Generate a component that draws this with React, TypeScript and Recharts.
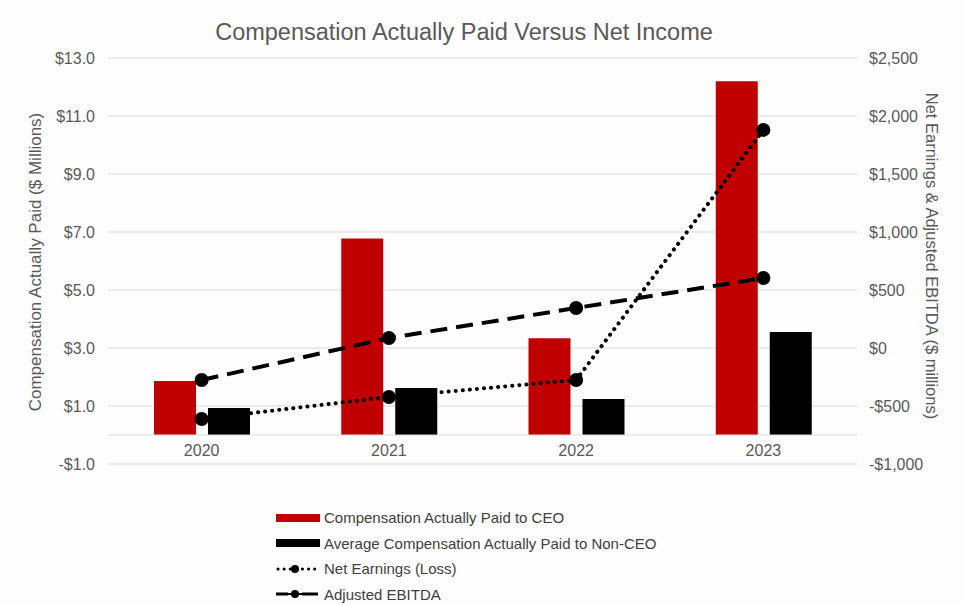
import {
  ComposedChart,
  Bar,
  Line,
  XAxis,
  YAxis,
  CartesianGrid,
  ReferenceLine,
} from "recharts";

const years = ["2020", "2021", "2022", "2023"];
const ceoPay = [1.86, 6.78, 3.34, 12.2];
const nonCeoPay = [0.93, 1.62, 1.24, 3.55];
const netEarnings = [-612, -422, -276, 1880];
const adjEbitda = [-276, 86, 345, 603];

const leftTicks = [-1, 1, 3, 5, 7, 9, 11, 13];
const rightTicks = [-1000, -500, 0, 500, 1000, 1500, 2000, 2500];

const RED = "#c00000";
const TEXT = "#595959";
const GRID = "#d9d9d9";
const FONT = "'Liberation Sans', Arial, sans-serif";

const data = years.map((y, i) => ({
  year: y,
  ceo: ceoPay[i],
  nonCeo: nonCeoPay[i],
  net: netEarnings[i],
  ebitda: adjEbitda[i],
}));

const money = (v: number, digits: number) => {
  const s = Math.abs(v).toLocaleString("en-US", {
    minimumFractionDigits: digits,
    maximumFractionDigits: digits,
  });
  return (v < 0 ? "-$" : "$") + s;
};

const legendItems = [
  { label: "Compensation Actually Paid to CEO", kind: "bar", color: RED },
  { label: "Average Compensation Actually Paid to Non-CEO", kind: "bar", color: "#000" },
  { label: "Net Earnings (Loss)", kind: "dot", color: "#000" },
  { label: "Adjusted EBITDA", kind: "dash", color: "#000" },
];

function LegendIcon({ kind, color }: { kind: string; color: string }) {
  return (
    <svg width={46} height={14} style={{ display: "block" }}>
      {kind === "bar" && <rect x={0} y={3} width={44} height={8} fill={color} />}
      {kind === "dot" && (
        <>
          <line x1={2} y1={7} x2={44} y2={7} stroke={color} strokeWidth={3}
            strokeDasharray="0.1 6" strokeLinecap="round" />
          <circle cx={19} cy={7} r={4} fill={color} />
        </>
      )}
      {kind === "dash" && (
        <>
          <line x1={0} y1={7} x2={12} y2={7} stroke={color} strokeWidth={3} />
          <line x1={26} y1={7} x2={42} y2={7} stroke={color} strokeWidth={3} />
          <line x1={12} y1={7} x2={26} y2={7} stroke={color} strokeWidth={2} />
          <circle cx={19} cy={7} r={4} fill={color} />
        </>
      )}
    </svg>
  );
}

export default function App() {
  return (
    <div
      style={{
        position: "fixed",
        left: 0,
        top: 0,
        width: 962,
        height: 605,
        background: "#fdfdfd",
        fontFamily: FONT,
      }}
    >
      <div
        style={{
          position: "absolute",
          top: 19,
          left: 0,
          width: 928,
          textAlign: "center",
          fontSize: 23.5,
          color: TEXT,
        }}
      >
        Compensation Actually Paid Versus Net Income
      </div>

      <ComposedChart
        width={962}
        height={605}
        data={data}
        margin={{ top: 58, right: 0, bottom: 111, left: 0 }}
        barGap={12}
      >
        <CartesianGrid vertical={false} stroke={GRID} yAxisId="left" />
        <ReferenceLine y={0} yAxisId="left" stroke={GRID} />
        <XAxis
          dataKey="year"
          axisLine={false}
          tickLine={false}
          height={30}
          tick={{ fill: TEXT, fontSize: 16, fontFamily: FONT, dy: -27 }}
        />
        <YAxis
          yAxisId="left"
          domain={[-1, 13]}
          ticks={leftTicks}
          width={108}
          axisLine={false}
          tickLine={false}
          tickMargin={7}
          tickFormatter={(v: number) => money(v, 1)}
          tick={{ fill: TEXT, fontSize: 16, fontFamily: FONT }}
          label={{
            content: () => (
              <text
                x={41}
                y={262}
                transform="rotate(-90 41 262)"
                textAnchor="middle"
                fill={TEXT}
                fontSize={17}
                fontFamily={FONT}
              >
                Compensation Actually Paid ($ Millions)
              </text>
            ),
          }}
        />
        <YAxis
          yAxisId="right"
          orientation="right"
          domain={[-1000, 2500]}
          ticks={rightTicks}
          width={105}
          axisLine={false}
          tickLine={false}
          tickMargin={6}
          tickFormatter={(v: number) => money(v, 0)}
          tick={{ fill: TEXT, fontSize: 16, fontFamily: FONT }}
          label={{
            content: () => (
              <text
                x={926}
                y={256}
                transform="rotate(90 926 256)"
                textAnchor="middle"
                fill={TEXT}
                fontSize={16.5}
                fontFamily={FONT}
              >
                Net Earnings &amp; Adjusted EBITDA ($ millions)
              </text>
            ),
          }}
        />
        <Bar yAxisId="left" dataKey="ceo" fill={RED} barSize={42} isAnimationActive={false} />
        <Bar yAxisId="left" dataKey="nonCeo" fill="#000" barSize={42} isAnimationActive={false} />
        <Line
          yAxisId="right"
          dataKey="net"
          stroke="#000"
          strokeWidth={4}
          strokeDasharray="0.1 7"
          strokeLinecap="round"
          dot={{ r: 7, fill: "#000", stroke: "none" }}
          activeDot={false}
          isAnimationActive={false}
        />
        <Line
          yAxisId="right"
          dataKey="ebitda"
          stroke="#000"
          strokeWidth={4}
          strokeDasharray="17 9"
          dot={{ r: 7, fill: "#000", stroke: "none", strokeDasharray: "" }}
          activeDot={false}
          isAnimationActive={false}
        />
      </ComposedChart>

      <div style={{ position: "absolute", left: 276, top: 505 }}>
        {legendItems.map((it) => (
          <div
            key={it.label}
            style={{
              display: "flex",
              alignItems: "center",
              height: 25.5,
              fontSize: 15,
              color: "#404040",
            }}
          >
            <LegendIcon kind={it.kind} color={it.color} />
            <span style={{ marginLeft: 2 }}>{it.label}</span>
          </div>
        ))}
      </div>
    </div>
  );
}
